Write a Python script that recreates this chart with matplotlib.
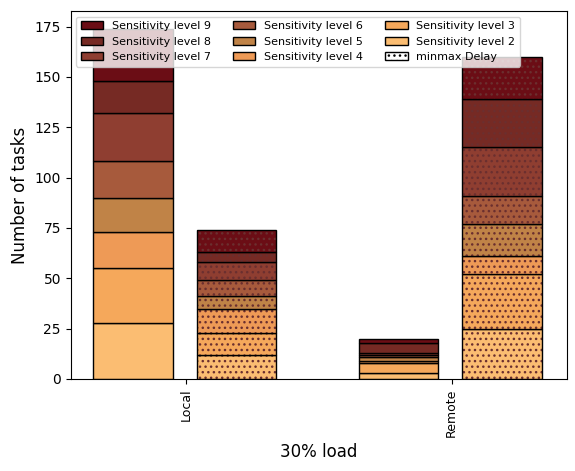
import numpy as np
import matplotlib
matplotlib.use("Agg")
import matplotlib.pyplot as plt
from matplotlib.patches import Patch

# sensitivity levels, bottom of the stack first
levels = [2, 3, 4, 5, 6, 7, 8, 9]
colors = ['#FBBD72', '#F5A85B', '#EE9A56', '#C08347',
          '#A75A3C', '#8F3E31', '#762A24', '#6B0D15']

groups = ['Local', 'Remote']

# plain bars (left of each group)
local_plain = [28, 27, 18, 17, 18, 24, 16, 26]
remote_plain = [3, 5, 1, 2, 1, 1, 5, 2]

# minmax Delay bars (right of each group, dotted)
local_minmax = [12, 11, 12, 6, 8, 9, 5, 11]
remote_minmax = [25, 27, 9, 16, 14, 24, 24, 21]

plain = np.array([local_plain, remote_plain])
minmax = np.array([local_minmax, remote_minmax])

hatch_col = '#6b2f2f'
width = 0.3
x = np.arange(len(groups))

fig = plt.figure(figsize=(5.75, 4.71), dpi=100)
ax = fig.add_axes([70.7/575, 92/471, 496/575, 368/471])

bottom_p = np.zeros(len(groups))
bottom_m = np.zeros(len(groups))
for i, lvl in enumerate(levels):
    ax.bar(x - 0.2, plain[:, i], width, bottom=bottom_p, color=colors[i],
           edgecolor='black', linewidth=1)
    # dotted fill, then the black outline on top
    ax.bar(x + 0.19, minmax[:, i], width, bottom=bottom_m, color=colors[i],
           edgecolor=hatch_col, linewidth=0, hatch='...')
    ax.bar(x + 0.19, minmax[:, i], width, bottom=bottom_m, fill=False,
           edgecolor='black', linewidth=1)
    bottom_p += plain[:, i]
    bottom_m += minmax[:, i]

ax.set_xlim(-0.435, 1.433)
ax.set_xticks(x)
ax.set_xticklabels(groups, rotation=90, fontsize=9)
ax.set_xlabel("30% load", fontsize=12)
ax.set_ylabel("Number of tasks", fontsize=12)

handles = [Patch(facecolor=colors[i], edgecolor='black',
                 label="Sensitivity level %d" % levels[i])
           for i in range(len(levels) - 1, -1, -1)]
handles.append(Patch(facecolor='white', edgecolor='black', hatch='...',
                     label="minmax Delay"))
ax.legend(handles=handles, loc='upper left', ncol=3, fontsize=8)

fig.savefig("out.png", dpi=100)
